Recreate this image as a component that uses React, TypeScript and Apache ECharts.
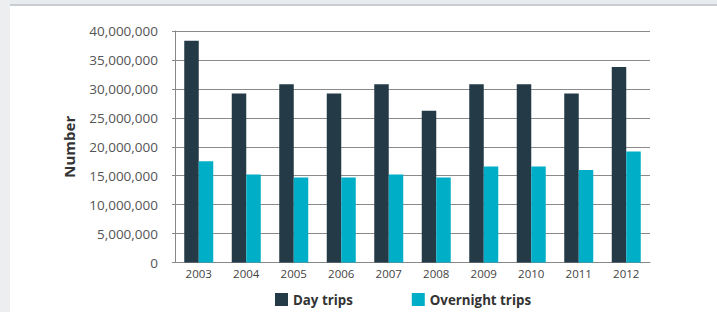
import React, { useEffect, useRef } from "react";
import * as echarts from "echarts";

const years = ["2003", "2004", "2005", "2006", "2007", "2008", "2009", "2010", "2011", "2012"];
const dayTrips = [38300000, 29200000, 30800000, 29200000, 30800000, 26200000, 30800000, 30800000, 29200000, 33800000];
const overnightTrips = [17500000, 15200000, 14700000, 14700000, 15200000, 14700000, 16600000, 16600000, 16000000, 19200000];
const seriesNames = ["Day trips", "Overnight trips"];
const yAxisTitle = "Number";

const FONT = "'Open Sans', 'Noto Sans', sans-serif";

export default function App() {
  const ref = useRef<HTMLDivElement>(null);
  useEffect(() => {
    if (!ref.current) return;
    const chart = echarts.init(ref.current, undefined, { renderer: "svg" });
    chart.setOption({
      animation: false,
      backgroundColor: "#ffffff",
      textStyle: { fontFamily: FONT },
      graphic: [
        { type: "rect", left: 0, top: 0, shape: { width: 717, height: 4 }, style: { fill: "#e9ecef" }, z: -1 },
        { type: "rect", left: 0, top: 4, shape: { width: 717, height: 2 }, style: { fill: "#c9cdd1" }, z: -1 },
        { type: "rect", left: 0, top: 0, shape: { width: 10, height: 312 }, style: { fill: "#eceef0" }, z: -1 },
      ],
      grid: { left: 175, right: 67, top: 31, bottom: 49.5, containLabel: false },
      legend: {
        data: seriesNames,
        left: 270,
        top: 288,
        itemWidth: 13,
        itemHeight: 13,
        itemGap: 59,
        icon: "rect",
        textStyle: { fontFamily: FONT, fontSize: 13.3, fontWeight: "bold", color: "#333" },
      },
      xAxis: {
        type: "category",
        data: years,
        axisLine: { show: true, lineStyle: { color: "#888", width: 1 } },
        axisTick: { show: false },
        axisLabel: { fontFamily: FONT, fontSize: 11.5, color: "#444", margin: 5 },
      },
      yAxis: {
        type: "value",
        min: 0,
        max: 40000000,
        interval: 5000000,
        name: yAxisTitle,
        nameLocation: "middle",
        nameRotate: 90,
        nameGap: 99,
        nameTextStyle: { fontFamily: FONT, fontSize: 15, fontWeight: "bold", color: "#333" },
        axisLine: { show: true, lineStyle: { color: "#888", width: 1 } },
        axisTick: { show: true, length: 3, lineStyle: { color: "#888" } },
        splitLine: { show: true, lineStyle: { color: "#8a8a8a", width: 1 } },
        axisLabel: {
          fontFamily: FONT,
          fontSize: 13.5,
          color: "#555",
          margin: 17,
          formatter: (v: number) => v.toLocaleString("en-US"),
        },
      },
      series: [
        {
          name: seriesNames[0],
          type: "bar",
          data: dayTrips,
          barWidth: 14.5,
          barGap: "0%",
          itemStyle: { color: "#243a46" },
        },
        {
          name: seriesNames[1],
          type: "bar",
          data: overnightTrips,
          barWidth: 14.5,
          barGap: "0%",
          itemStyle: { color: "#00aec7" },
        },
      ],
    });
    return () => chart.dispose();
  }, []);
  return <div ref={ref} style={{ position: "fixed", left: 0, top: 0, width: 717, height: 312 }} />;
}
